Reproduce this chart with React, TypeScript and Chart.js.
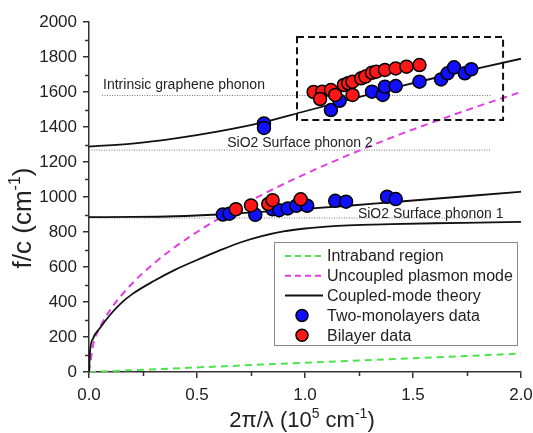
import React, { useEffect, useRef } from 'react';
import { Chart, registerables } from 'chart.js';

Chart.register(...registerables);

const FONT = '"Liberation Sans", Arial, Helvetica, sans-serif';

// ---- data ----
const intrabandX = [0, 2.0];
const intrabandY = [0, 105];

const plasmonX = [0, 0.02, 0.05, 0.1, 0.2, 0.3, 0.4, 0.5, 0.6, 0.8, 1.0, 1.2, 1.4, 1.6, 1.8, 2.0];
const plasmonY = [0, 160, 253, 358, 506, 620, 716, 800, 876, 1012, 1131, 1239, 1339, 1431, 1518, 1600];

const coupledLowX = [0, 0.005, 0.02, 0.05, 0.1, 0.15, 0.2, 0.3, 0.4, 0.5, 0.6, 0.7, 0.8, 0.9, 1.0, 1.1, 1.2, 1.4, 1.6, 1.8, 2.0];
const coupledLowY = [0, 120, 195, 250, 330, 395, 445, 520, 585, 640, 692, 740, 776, 803, 820, 831, 838, 845, 850, 854, 858];

const coupledMidX = [0, 0.2, 0.4, 0.6, 0.8, 1.0, 1.2, 1.4, 1.6, 1.8, 2.0];
const coupledMidY = [885, 886, 890, 900, 915, 932, 950, 970, 990, 1010, 1030];

const coupledUpX = [0, 0.2, 0.4, 0.6, 0.8, 1.0, 1.2, 1.4, 1.6, 1.8, 2.0];
const coupledUpY = [1288, 1305, 1335, 1375, 1425, 1490, 1555, 1620, 1680, 1735, 1790];

const twoMonoX = [0.62, 0.65, 0.77, 0.85, 0.88, 0.92, 0.96, 1.01, 1.14, 1.19, 1.38, 1.42,
  0.81, 0.81, 1.12, 1.16, 1.31, 1.36, 1.37, 1.42, 1.53, 1.63, 1.66, 1.69, 1.74, 1.77];
const twoMonoY = [900, 905, 898, 930, 925, 935, 950, 950, 978, 973, 1002, 988,
  1420, 1395, 1497, 1550, 1602, 1583, 1630, 1634, 1659, 1672, 1707, 1741, 1707, 1730];

const bilayerX = [0.68, 0.75, 0.83, 0.85, 0.98,
  1.04, 1.08, 1.07, 1.12, 1.14, 1.18, 1.2, 1.22, 1.22, 1.26, 1.28, 1.31, 1.33, 1.37, 1.42, 1.47, 1.53];
const bilayerY = [930, 952, 960, 982, 987,
  1600, 1602, 1560, 1611, 1583, 1640, 1650, 1583, 1659, 1678, 1688, 1710, 1716, 1726, 1735, 1745, 1754];

const phononNames = ['Intrinsic graphene phonon', 'SiO2 Surface phonon 2', 'SiO2 Surface phonon 1'];
const phononY = [1580, 1268, 880];
const phononXStart = [0.06, 0, 0];
const phononXEnd = [1.86, 1.86, 1.86];
const phononLabelX = [0.065, 0.64, 1.245];
const phononLabelY = [1617, 1286, 878];

const boxX = [0.963, 1.917];
const boxY = [1440, 1915];

const xTicks = [0, 0.5, 1.0, 1.5, 2.0];
const yTicks = [0, 200, 400, 600, 800, 1000, 1200, 1400, 1600, 1800, 2000];

const legendLabels = ['Intraband region', 'Uncoupled plasmon mode', 'Coupled-mode theory', 'Two-monolayers data', 'Bilayer data'];

const GREEN = '#4ee34e';
const MAGENTA = '#e03ee0';
const BLUE = '#1010ff';
const RED = '#ff1616';

const zip = (xs: number[], ys: number[]) => xs.map((x, i) => ({ x, y: ys[i] }));

function drawRich(ctx: CanvasRenderingContext2D, parts: { t: string; sup?: boolean }[], size: number, cx: number, cy: number) {
  const widths = parts.map((p) => {
    ctx.font = `${p.sup ? Math.round(size * 0.62) : size}px ${FONT}`;
    return ctx.measureText(p.t).width;
  });
  const total = widths.reduce((a, b) => a + b, 0);
  let x = cx - total / 2;
  ctx.textAlign = 'left';
  ctx.textBaseline = 'alphabetic';
  parts.forEach((p, i) => {
    ctx.font = `${p.sup ? Math.round(size * 0.62) : size}px ${FONT}`;
    ctx.fillText(p.t, x, p.sup ? cy - size * 0.42 : cy);
    x += widths[i];
  });
}

const decor = {
  id: 'decor',
  afterDatasetsDraw(chart: any) {
    const { ctx, scales } = chart;
    const x = scales.x;
    const y = scales.y;
    ctx.save();
    // dashed box
    ctx.setLineDash([7, 4]);
    ctx.lineWidth = 2;
    ctx.strokeStyle = '#111';
    const bx0 = x.getPixelForValue(boxX[0]);
    const bx1 = x.getPixelForValue(boxX[1]);
    const by0 = y.getPixelForValue(boxY[1]);
    const by1 = y.getPixelForValue(boxY[0]);
    ctx.strokeRect(bx0, by0, bx1 - bx0, by1 - by0);
    ctx.setLineDash([]);
    // phonon labels
    ctx.fillStyle = '#222';
    ctx.font = `14px ${FONT}`;
    ctx.textAlign = 'left';
    ctx.textBaseline = 'alphabetic';
    phononNames.forEach((n, i) => {
      ctx.fillText(n, x.getPixelForValue(phononLabelX[i]), y.getPixelForValue(phononLabelY[i]));
    });
    ctx.restore();
  },
  afterDraw(chart: any) {
    const { ctx, chartArea, scales } = chart;
    const x = scales.x;
    const y = scales.y;
    ctx.save();
    // minor ticks
    ctx.strokeStyle = '#333';
    ctx.lineWidth = 1.5;
    ctx.beginPath();
    for (let v = 100; v < 2000; v += 200) {
      const py = Math.round(y.getPixelForValue(v)) + 0.5;
      ctx.moveTo(chartArea.left - 4, py);
      ctx.lineTo(chartArea.left, py);
    }
    for (let v = 0.25; v < 2; v += 0.5) {
      const px = Math.round(x.getPixelForValue(v)) + 0.5;
      ctx.moveTo(px, chartArea.bottom);
      ctx.lineTo(px, chartArea.bottom + 4);
    }
    ctx.stroke();

    // legend
    const lx = chartArea.left + 185;
    const ly = chartArea.top + 220;
    const lw = 243;
    const lh = 103;
    ctx.fillStyle = '#fff';
    ctx.fillRect(lx, ly, lw, lh);
    ctx.strokeStyle = '#888';
    ctx.lineWidth = 1;
    ctx.strokeRect(lx + 0.5, ly + 0.5, lw, lh);
    const rowY = (i: number) => ly + 14 + i * 19.8;
    const styles = [
      { color: GREEN, dash: [6, 4] },
      { color: MAGENTA, dash: [6, 4] },
      { color: '#111', dash: [] as number[] },
    ];
    styles.forEach((s, i) => {
      ctx.strokeStyle = s.color;
      ctx.lineWidth = 2;
      ctx.setLineDash(s.dash);
      ctx.beginPath();
      ctx.moveTo(lx + 11, rowY(i));
      ctx.lineTo(lx + 49, rowY(i));
      ctx.stroke();
    });
    ctx.setLineDash([]);
    [BLUE, RED].forEach((c, j) => {
      ctx.beginPath();
      ctx.arc(lx + 28, rowY(3 + j), 6, 0, Math.PI * 2);
      ctx.fillStyle = c;
      ctx.fill();
      ctx.lineWidth = 1.5;
      ctx.strokeStyle = '#000';
      ctx.stroke();
    });
    ctx.fillStyle = '#222';
    ctx.font = `16px ${FONT}`;
    ctx.textAlign = 'left';
    ctx.textBaseline = 'middle';
    legendLabels.forEach((t, i) => ctx.fillText(t, lx + 53, rowY(i) + 1));

    // axis titles
    ctx.fillStyle = '#222';
    drawRich(ctx, [{ t: '2\u03c0/\u03bb (10' }, { t: '5', sup: true }, { t: ' cm' }, { t: '-1', sup: true }, { t: ')' }], 22,
      (chartArea.left + chartArea.right) / 2 - 3, 427);
    ctx.translate(31, chartArea.top + 196);
    ctx.rotate(-Math.PI / 2);
    drawRich(ctx, [{ t: 'f/c (cm' }, { t: '-1', sup: true }, { t: ')' }], 26, 0, 0);
    ctx.restore();
  },
};

export default function App() {
  const ref = useRef<HTMLCanvasElement>(null);
  useEffect(() => {
    document.body.style.margin = '0';
    const canvas = ref.current!;
    const lineDs = (xs: number[], ys: number[], color: string, dash: number[], width: number) => ({
      data: zip(xs, ys),
      showLine: true,
      borderColor: color,
      borderWidth: width,
      borderDash: dash,
      pointRadius: 0,
      fill: false,
      cubicInterpolationMode: 'monotone',
    });
    const datasets: any[] = [
      {
        data: zip(bilayerX, bilayerY),
        pointRadius: 6.5,
        pointBackgroundColor: RED,
        pointBorderColor: '#000',
        pointBorderWidth: 1.5,
        showLine: false,
      },
      {
        data: zip(twoMonoX, twoMonoY),
        pointRadius: 6.5,
        pointBackgroundColor: BLUE,
        pointBorderColor: '#000',
        pointBorderWidth: 1.5,
        showLine: false,
      },
      lineDs(coupledLowX, coupledLowY, '#111', [], 1.8),
      lineDs(coupledMidX, coupledMidY, '#111', [], 1.8),
      lineDs(coupledUpX, coupledUpY, '#111', [], 1.8),
      lineDs(plasmonX, plasmonY, MAGENTA, [7, 5], 2),
      lineDs(intrabandX, intrabandY, GREEN, [7, 5], 2),
      ...phononY.map((v, i) => lineDs([phononXStart[i], phononXEnd[i]], [v, v], '#777', [1, 1.5], 1)),
    ];
    const chart = new Chart(canvas, {
      type: 'scatter',
      data: { datasets },
      plugins: [decor],
      options: {
        responsive: false,
        animation: false,
        layout: { padding: { top: 22, right: 12, left: 0, bottom: 0 } },
        plugins: { legend: { display: false }, tooltip: { enabled: false } },
        scales: {
          x: {
            type: 'linear',
            min: 0,
            max: 2,
            afterBuildTicks: (s: any) => { s.ticks = xTicks.map((v) => ({ value: v })); },
            afterFit: (s: any) => { s.height = 61; s.paddingLeft = 0; s.paddingRight = 0; },
            ticks: {
              color: '#222',
              font: { family: FONT, size: 17 },
              padding: 7,
              maxRotation: 0,
              autoSkip: false,
              callback: (v: any) => Number(v).toFixed(1),
            },
            grid: { drawOnChartArea: false, drawTicks: true, tickLength: 6, color: '#333', lineWidth: 1.5 },
            border: { display: true, color: '#333', width: 1.5 },
          },
          y: {
            type: 'linear',
            min: 0,
            max: 2000,
            afterBuildTicks: (s: any) => { s.ticks = yTicks.map((v) => ({ value: v })); },
            afterFit: (s: any) => { s.width = 89; s.paddingTop = 0; s.paddingBottom = 0; },
            ticks: {
              color: '#222',
              font: { family: FONT, size: 17 },
              padding: 6,
              autoSkip: false,
              callback: (v: any) => String(v),
            },
            grid: { drawOnChartArea: false, drawTicks: true, tickLength: 6, color: '#333', lineWidth: 1.5 },
            border: { display: true, color: '#333', width: 1.5 },
          },
        },
      } as any,
    });
    return () => chart.destroy();
  }, []);
  return <canvas ref={ref} width={533} height={433} style={{ display: 'block' }} />;
}
